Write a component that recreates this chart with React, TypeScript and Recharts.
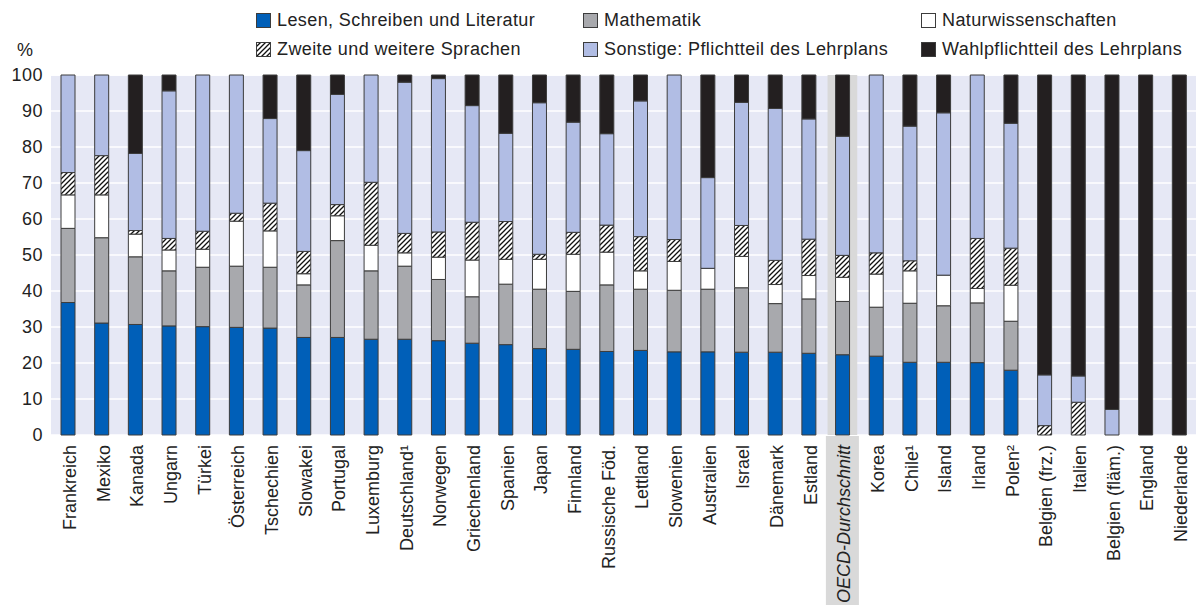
import React from 'react';
import { BarChart, Bar, XAxis, YAxis, CartesianGrid, ReferenceArea } from 'recharts';

const countries = [
  'Frankreich', 'Mexiko', 'Kanada', 'Ungarn', 'Türkei', 'Österreich', 'Tschechien', 'Slowakei',
  'Portugal', 'Luxemburg', 'Deutschland¹', 'Norwegen', 'Griechenland', 'Spanien', 'Japan',
  'Finnland', 'Russische Föd.', 'Lettland', 'Slowenien', 'Australien', 'Israel', 'Dänemark',
  'Estland', 'OECD-Durchschnitt', 'Korea', 'Chile¹', 'Island', 'Irland', 'Polen²',
  'Belgien (frz.)', 'Italien', 'Belgien (fläm.)', 'England', 'Niederlande',
];

const lesen = [36.8, 31.1, 30.7, 30.3, 30.1, 29.9, 29.7, 27.1, 27.1, 26.6, 26.6, 26.2, 25.5, 25.1, 24.0, 23.8, 23.2, 23.5, 23.1, 23.1, 23.0, 23.0, 22.7, 22.3, 21.9, 20.2, 20.2, 20.1, 18.0, 0, 0, 0, 0, 0];
const mathe = [20.6, 23.7, 18.8, 15.3, 16.5, 17.0, 16.9, 14.6, 26.9, 19.0, 20.3, 17.0, 12.9, 16.8, 16.5, 16.1, 18.5, 17.0, 17.1, 17.4, 17.9, 13.5, 15.1, 14.8, 13.6, 16.4, 15.7, 16.6, 13.6, 0, 0, 0, 0, 0];
const natur = [9.3, 11.9, 6.3, 5.8, 5.0, 12.5, 10.1, 3.1, 6.9, 7.1, 3.7, 6.2, 10.2, 6.9, 8.3, 10.3, 9.1, 5.1, 8.0, 5.8, 8.7, 5.3, 6.5, 6.7, 9.2, 9.0, 8.5, 4.0, 10.0, 0, 0, 0, 0, 0];
const sprachen = [6.2, 10.9, 1.0, 3.2, 5.0, 2.2, 7.7, 6.2, 3.1, 17.5, 5.4, 7.0, 10.5, 10.5, 1.4, 6.1, 7.5, 9.5, 6.1, 0, 8.6, 6.7, 10.1, 6.1, 5.9, 2.8, 0, 13.9, 10.3, 2.6, 9.1, 0, 0, 0];
const sonstige = [27.1, 22.4, 21.4, 41.0, 43.4, 38.4, 23.5, 28.0, 30.6, 29.8, 42.0, 42.6, 32.4, 24.5, 42.1, 30.6, 25.4, 37.7, 45.7, 25.2, 34.2, 42.2, 33.4, 33.1, 49.4, 37.4, 45.1, 45.4, 34.7, 14.1, 7.3, 7.1, 0, 0];
const wahl = [0, 0, 21.8, 4.4, 0, 0, 12.1, 21.0, 5.4, 0, 2.0, 1.0, 8.5, 16.2, 7.7, 13.1, 16.3, 7.2, 0, 28.5, 7.6, 9.3, 12.2, 17.0, 0, 14.2, 10.5, 0, 13.4, 83.3, 83.6, 92.9, 100, 100];

const yTicks = [0, 10, 20, 30, 40, 50, 60, 70, 80, 90, 100];
const OECD = 'OECD-Durchschnitt';

const data = countries.map((name, i) => ({
  name,
  lesen: lesen[i],
  mathe: mathe[i],
  natur: natur[i],
  sprachen: sprachen[i],
  sonstige: sonstige[i],
  wahl: wahl[i],
}));

const FONT = '"Liberation Sans", Arial, sans-serif';
const BORDER = '#3c3c3c';

const series = [
  { key: 'lesen', label: 'Lesen, Schreiben und Literatur', fill: '#005fb8' },
  { key: 'mathe', label: 'Mathematik', fill: '#a8a9ad' },
  { key: 'natur', label: 'Naturwissenschaften', fill: '#ffffff' },
  { key: 'sprachen', label: 'Zweite und weitere Sprachen', fill: 'url(#hatch)' },
  { key: 'sonstige', label: 'Sonstige: Pflichtteil des Lehrplans', fill: '#b1bde4' },
  { key: 'wahl', label: 'Wahlpflichtteil des Lehrplans', fill: '#231f20' },
];

// legend order in the picture: two rows of three
const legendRows = [
  ['lesen', 'mathe', 'natur'],
  ['sprachen', 'sonstige', 'wahl'],
];
const legendCols = [256, 583, 921];

function CountryTick(props: any) {
  const { x, y, payload } = props;
  const oecd = payload.value === OECD;
  return (
    <g>
      {oecd && <rect x={x - 16.5} y={y - 7} width={33} height={180} fill="#d9d9d9" />}
      <text
        transform={`translate(${x + 2},${y + 2}) rotate(-90)`}
        textAnchor="end"
        dominantBaseline="central"
        fontSize={18}
        fontStyle={oecd ? 'italic' : 'normal'}
        fill="#222"
        fontFamily={FONT}
      >
        {payload.value}
      </text>
    </g>
  );
}

function Swatch({ fill }: { fill: string }) {
  return (
    <svg width={15} height={15} style={{ display: 'block' }}>
      <defs>
        <pattern id="hatchLegend" patternUnits="userSpaceOnUse" width={5} height={5}>
          <rect width={5} height={5} fill="#fff" />
          <path d="M-1,1 L1,-1 M0,5 L5,0 M4,6 L6,4" stroke="#111" strokeWidth={1.3} />
        </pattern>
      </defs>
      <rect
        x={0.5}
        y={0.5}
        width={14}
        height={14}
        fill={fill === 'url(#hatch)' ? 'url(#hatchLegend)' : fill}
        stroke={BORDER}
        strokeWidth={1}
      />
    </svg>
  );
}

export default function App() {
  return (
    <div style={{ position: 'absolute', left: 0, top: 0, width: 1200, height: 605, background: '#fff', fontFamily: FONT }}>
      {legendRows.map((row, r) =>
        row.map((key, c) => {
          const s = series.find((it) => it.key === key)!;
          return (
            <div
              key={key}
              style={{
                position: 'absolute',
                left: legendCols[c],
                top: 10 + r * 29,
                display: 'flex',
                alignItems: 'center',
                gap: 6,
                fontSize: 18,
                letterSpacing: 0.4,
                color: '#222',
                lineHeight: '20px',
                whiteSpace: 'nowrap',
              }}
            >
              <Swatch fill={s.fill} />
              <span>{s.label}</span>
            </div>
          );
        })
      )}
      <div style={{ position: 'absolute', left: 17, top: 40, fontSize: 18, color: '#222' }}>%</div>
      <div style={{ position: 'absolute', left: 0, top: 0 }}>
        <BarChart
          width={1200}
          height={605}
          data={data}
          margin={{ top: 75, right: 4, bottom: 0, left: 0 }}
          barCategoryGap={0}
        >
          <defs>
            <pattern id="hatch" patternUnits="userSpaceOnUse" width={5} height={5}>
              <rect width={5} height={5} fill="#fff" />
              <path d="M-1,1 L1,-1 M0,5 L5,0 M4,6 L6,4" stroke="#111" strokeWidth={1.3} />
            </pattern>
          </defs>
          <CartesianGrid vertical={false} fill="#e6e8f5" stroke="#ffffff" strokeWidth={1.5} />
          <ReferenceArea
            x1={OECD}
            x2={OECD}
            ifOverflow="visible"
            shape={(p: any) => <rect x={p.x + 2} y={p.y} width={p.width - 4} height={p.height} fill="#d9d9d9" />}
          />
          <XAxis
            dataKey="name"
            interval={0}
            height={170}
            axisLine={false}
            tickLine={false}
            tick={<CountryTick />}
          />
          <YAxis
            width={51}
            domain={[0, 100]}
            ticks={yTicks}
            axisLine={false}
            tickLine={false}
            tick={{ fontSize: 18, fill: '#222', fontFamily: FONT, letterSpacing: 0.5 }}
          />
          {series.map((s) => (
            <Bar
              key={s.key}
              dataKey={s.key}
              stackId="a"
              fill={s.fill}
              stroke={BORDER}
              strokeWidth={1}
              barSize={14}
              isAnimationActive={false}
            />
          ))}
        </BarChart>
      </div>
    </div>
  );
}
